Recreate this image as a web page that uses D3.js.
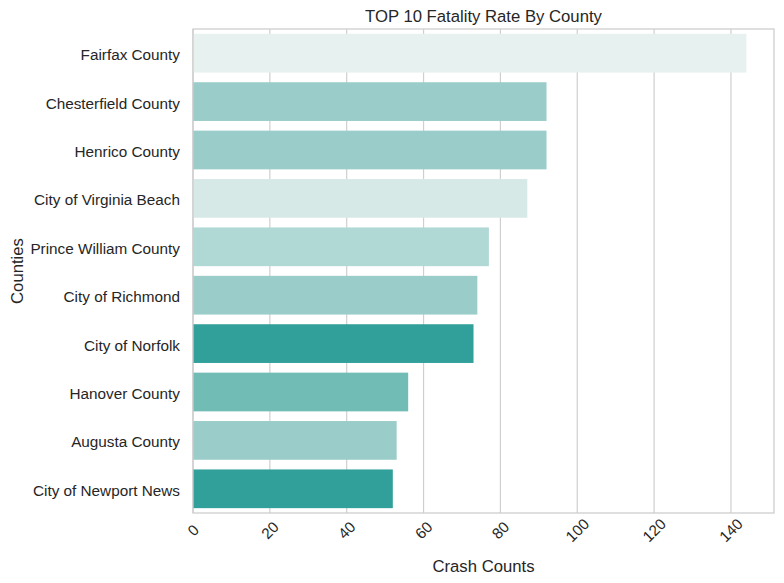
<!DOCTYPE html>
<html>
<head>
<meta charset="utf-8">
<script src="https://cdn.jsdelivr.net/npm/d3@7"></script>
<style>
  body { margin: 0; background: #fff; }
  svg { display: block; font-family: "Liberation Sans", Arial, sans-serif; }
</style>
</head>
<body>
<svg id="chart" width="784" height="583"></svg>
<script>
const counties = ["Fairfax County", "Chesterfield County", "Henrico County", "City of Virginia Beach",
  "Prince William County", "City of Richmond", "City of Norfolk", "Hanover County",
  "Augusta County", "City of Newport News"];
const crashCounts = [144, 92, 92, 87, 77, 74, 73, 56, 53, 52];
const barColors = ["#e7f1f0", "#9acdc9", "#9acdc9", "#d7e9e7", "#b0d8d5", "#9acdc9", "#32a09a", "#72bcb6", "#9acdc9", "#32a09a"];
const xTicks = [0, 20, 40, 60, 80, 100, 120, 140];

const svg = d3.select("#chart");
const m = { left: 193, right: 774, top: 29, bottom: 513 };
const x = d3.scaleLinear().domain([0, 144 * 1.05]).range([m.left, m.right]);
const y = d3.scaleBand().domain(counties).range([m.top, m.bottom]).paddingInner(0.2).paddingOuter(0.1);

// gridlines
svg.append("g").selectAll("line").data(xTicks).join("line")
  .attr("x1", d => x(d)).attr("x2", d => x(d))
  .attr("y1", m.top).attr("y2", m.bottom)
  .attr("stroke", "#cfcfcf").attr("stroke-width", 1.2);

// bars
svg.append("g").selectAll("rect").data(counties).join("rect")
  .attr("x", x(0))
  .attr("y", d => y(d))
  .attr("width", (d, i) => x(crashCounts[i]) - x(0))
  .attr("height", y.bandwidth())
  .attr("fill", (d, i) => barColors[i]);

// frame
svg.append("rect")
  .attr("x", m.left).attr("y", m.top)
  .attr("width", m.right - m.left).attr("height", m.bottom - m.top)
  .attr("fill", "none").attr("stroke", "#cccccc").attr("stroke-width", 1.25);

// x tick labels
svg.append("g").selectAll("text").data(xTicks).join("text")
  .attr("transform", d => `translate(${x(d)},${530}) rotate(-45)`)
  .attr("text-anchor", "middle")
  .attr("dominant-baseline", "central")
  .attr("font-size", "15.3px")
  .attr("fill", "#262626")
  .text(d => d);

// y tick labels
svg.append("g").selectAll("text").data(counties).join("text")
  .attr("x", 180)
  .attr("y", d => y(d) + y.bandwidth() / 2 + 1.5)
  .attr("text-anchor", "end")
  .attr("dominant-baseline", "central")
  .attr("font-size", "15.3px")
  .attr("fill", "#262626")
  .text(d => d);

// title
svg.append("text")
  .attr("x", (m.left + m.right) / 2).attr("y", 22)
  .attr("text-anchor", "middle")
  .attr("font-size", "16.7px")
  .attr("fill", "#262626")
  .text("TOP 10 Fatality Rate By County");

// x label
svg.append("text")
  .attr("x", (m.left + m.right) / 2).attr("y", 572)
  .attr("text-anchor", "middle")
  .attr("font-size", "16.7px")
  .attr("fill", "#262626")
  .text("Crash Counts");

// y label
svg.append("text")
  .attr("transform", `translate(23,${(m.top + m.bottom) / 2}) rotate(-90)`)
  .attr("text-anchor", "middle")
  .attr("font-size", "16.7px")
  .attr("fill", "#262626")
  .text("Counties");
</script>
</body>
</html>
